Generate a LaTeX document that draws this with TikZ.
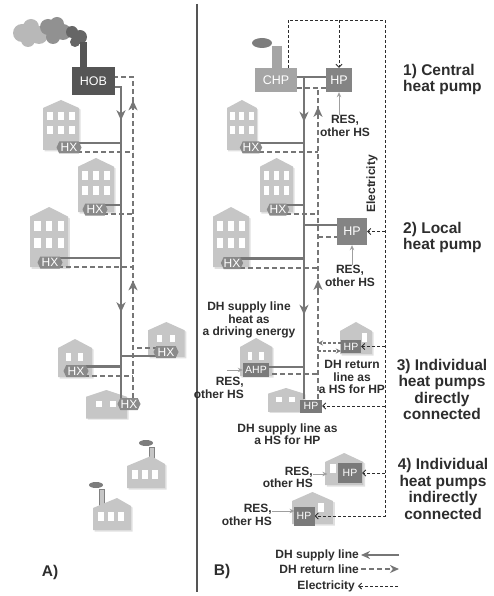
\documentclass[tikz,border=0pt]{standalone}
\usepackage{fontspec}
\setmainfont{Liberation Sans}
\usepackage{tikz}
\usetikzlibrary{arrows.meta,shapes.symbols,positioning}
\definecolor{dhline}{RGB}{118,118,118}
\definecolor{dhbldg}{RGB}{198,198,198}
\definecolor{dhtag}{RGB}{138,138,138}
\definecolor{dhhptag}{RGB}{122,122,122}
\definecolor{dhhob}{RGB}{85,85,85}
\definecolor{dhchp}{RGB}{165,165,165}
\definecolor{dhhp}{RGB}{132,132,132}
\definecolor{dhsmoke}{RGB}{125,125,125}
\definecolor{dhink}{RGB}{45,45,45}
\pgfdeclarelayer{front}
\pgfsetlayers{main,front}
\tikzstyle{supply} = [line width=2.4pt, draw=dhline]
\tikzstyle{rtn} = [line width=2pt, draw=dhline, dash pattern=on 5pt off 3pt]
\tikzstyle{rtnthin} = [line width=1.3pt, draw=dhline, dash pattern=on 3pt off 2pt]
\tikzstyle{elec} = [line width=0.9pt, draw=dhink, dash pattern=on 3pt off 2pt]
\tikzstyle{eto} = [-{Straight Barb[length=3pt,width=6pt]}]
\tikzstyle{flowtip} = [line width=2pt, draw=dhline, fill=dhline, -{Stealth[length=10pt,width=9pt,inset=3pt]}]
\tikzstyle{res} = [line width=1pt, draw=dhline!70, -{Stealth[length=5pt,width=4.5pt]}]
\tikzstyle{plant} = [rectangle, text=white, font=\fontsize{12.5}{12.5}\selectfont, inner sep=0pt]
\tikzstyle{hx} = [signal, signal to=east and west, signal pointer angle=130, fill=dhtag, text=white, font=\fontsize{12}{12}\selectfont, inner sep=0pt, minimum width=25pt, minimum height=12pt]
\tikzstyle{tag} = [rectangle, fill=dhhptag, text=white, font=\fontsize{10.5}{10.5}\selectfont, inner sep=0pt]
\tikzstyle{lbl} = [font=\fontsize{12}{12.5}\selectfont\bfseries, text=dhink, align=center, inner sep=0pt]
\tikzstyle{head} = [font=\fontsize{15.5}{16.5}\selectfont\bfseries, text=dhink, inner sep=0pt]
\tikzset{
  flats/.pic={
    \fill[black, opacity=0.12] (1.5,9.5) -- (19.5,1.5) -- (37.5,9.5) -- (37.5,51.5) -- (1.5,51.5) -- cycle;
    \fill[dhbldg] (0,8) -- (18,0) -- (36,8) -- (36,50) -- (0,50) -- cycle;
    \foreach \c in {4,15,26}
      \foreach \r in {12,26}
        \fill[white] (\c,\r) rectangle ++(6,8);
  },
  house/.pic={
    \fill[black, opacity=0.12] (1.5,10.5) -- (18.5,1.5) -- (35.5,10.5) -- (35.5,39.5) -- (1.5,39.5) -- cycle;
    \fill[dhbldg] (0,9) -- (17,0) -- (34,9) -- (34,38) -- (0,38) -- cycle;
    \foreach \c in {8,20}
      \fill[white] (\c,14) rectangle ++(5,8);
  },
  cottage/.pic={
    \fill[black, opacity=0.12] (1.5,10.5) -- (17.5,1.5) -- (33.5,10.5) -- (33.5,33.5) -- (1.5,33.5) -- cycle;
    \fill[dhbldg] (0,9) -- (16,0) -- (32,9) -- (32,32) -- (0,32) -- cycle;
    \fill[white] (#1,11) rectangle ++(5,9);
    \coordinate (-wall) at (2,18);
  },
  factory/.pic={
    \draw[dhink!60, line width=0.6pt, fill=dhbldg] (#1,10) -- (#1,-9) -- ++(5,0) -- ++(0,19);
    \fill[dhsmoke] (#1-3,-13) ellipse [x radius=7, y radius=3];
    \fill[black, opacity=0.12] (1.5,33.5) -- (1.5,11.5) -- (25.5,1.5) -- (39.5,9.5) -- (39.5,33.5) -- cycle;
    \fill[dhbldg] (0,32) -- (0,10) -- (24,0) -- (38,8) -- (38,32) -- cycle;
    \foreach \c in {5,15,25}
      \fill[white] (\c,14) rectangle ++(6,9);
  }
}

\begin{document}
\begin{tikzpicture}[x=1pt, y=-1pt]
\useasboundingbox (0,0) rectangle (493,596);
\coordinate (sA) at (121,0);
\coordinate (rA) at (133,0);
\coordinate (sB) at (304,0);
\coordinate (rB) at (318,0);
\coordinate (eTR) at (385,20);

% A) heat-only boiler with its consumers
\fill[dhsmoke!55] (22,33) circle (9) (31,27) circle (8) (39,35) circle (9) (28,40) circle (7);
\fill[dhsmoke!85] (48,27) circle (8) (57,24) circle (7) (63,32) circle (8) (53,37) circle (7);
\fill[dhhob!90] (72,32) circle (6) (80,37) circle (7) (75,42) circle (5);
\fill[dhhob] (80,42) rectangle (87,70);
\node[plant, fill=dhhob, minimum width=43pt, minimum height=28pt] (hob) at (93.5,81) {HOB};

\pic at (43,100) {flats};
\pic[yscale=1.08] at (78,158) {flats};
\pic[xscale=1.06, yscale=1.2] at (30,207) {flats};
\pic[xscale=1.08, yscale=0.92] at (148,322) {house};
\pic at (58,339) {house};
\pic[xscale=1.2, yscale=0.75] at (86,390) {house};
\pic at (127,456) {factory=22};
\pic at (93,498) {factory=6};

\begin{pgfonlayer}{front}
\node[hx] (hxA1) at (69,147.5) {HX};
\node[hx] (hxA2) at (95,209.5) {HX};
\node[hx] (hxA3) at (50,262.5) {HX};
\node[hx] (hxA4) at (166,352) {HX};
\node[hx] (hxA5) at (76,371) {HX};
\node[hx, minimum width=23pt] (hxA6) at (129,404) {HX};
\end{pgfonlayer}

\draw[supply] ([yshift=-6pt]hob.east) -| ([xshift=-8pt]hxA6.north);
\draw[rtn] ([xshift=4pt]hxA6.north) |- ([yshift=4pt]hob.east);
% flow direction marks on the mains
\foreach \a/\b in {287.5/277.5, 95.5/85.5}
  \draw[flowtip] ([xshift=-8pt,yshift=\a pt]hxA6.north) -- ([xshift=-8pt,yshift=\b pt]hxA6.north);
\foreach \a/\b in {287.5/297.5, 107.5/117.5}
  \draw[flowtip] ([xshift=4pt,yshift=\a pt]hxA6.north) -- ([xshift=4pt,yshift=\b pt]hxA6.north);
\foreach \t in {hxA1,hxA2,hxA3,hxA5} {
  \draw[supply] ([yshift=4.5pt]\t.center) -- ([yshift=4.5pt]\t.center -| sA);
  \draw[rtn] ([yshift=-4.5pt]\t.center) -- ([yshift=-4.5pt]\t.center -| rA);
}
\draw[supply] ([yshift=-4pt]hxA4.center) -- ([yshift=-4pt]hxA4.center -| sA);
\draw[rtn] ([yshift=4pt]hxA4.center) -- ([yshift=4pt]hxA4.center -| rA);

\node[head] (capA) at (50,572) {A)};

\draw[dhhob, line width=1.6pt] (197,4) -- (197,592);

% B) combined heat and power with heat pumps
\fill[dhsmoke] (262,43) ellipse [x radius=10, y radius=5];
\fill[dhchp] (272,46) rectangle (282,70);
\node[plant, fill=dhchp, minimum width=42pt, minimum height=24pt] (chp) at (276,80) {CHP};
\node[plant, fill=dhhp, minimum width=26pt, minimum height=24pt] (hpC) at (339,80) {HP};

\pic[xscale=0.83] at (227,100) {flats};
\pic[xscale=0.92, yscale=1.08] at (260,158) {flats};
\pic[yscale=1.2] at (213,207) {flats};
\pic[xscale=0.95] at (240,338) {house};
\pic[xscale=1.06, yscale=0.63] at (268,388) {house};
\pic at (340,322) {cottage=22};
\pic[xscale=1.2] (h4a) at (325,453) {cottage=4};
\pic[xscale=1.28] (h4b) at (292,492) {cottage=20};

\begin{pgfonlayer}{front}
\node[hx, minimum width=22pt] (hxB1) at (251,147.5) {HX};
\node[hx, minimum width=21pt] (hxB2) at (278,209.5) {HX};
\node[hx, minimum width=21pt] (hxB3) at (232,263) {HX};
\node[plant, fill=dhhp, minimum width=30pt, minimum height=27pt] (hpL) at (352,231.5) {HP};
\node[tag, minimum width=26pt, minimum height=14pt] (ahp) at (256,370) {AHP};
\node[tag, minimum width=22pt, minimum height=13pt] (hpD) at (311,406) {HP};
\node[tag, minimum width=20pt, minimum height=13pt] (hpR) at (351,346.5) {HP};
\node[tag, minimum width=24pt, minimum height=20pt] (hp4a) at (350,473) {HP};
\node[tag, minimum width=21pt, minimum height=19pt] (hp4b) at (304,516) {HP};
\end{pgfonlayer}

% supply and return mains
\draw[supply] ([yshift=3pt]chp.east) -- ([yshift=3pt]hpC.west);
\draw[supply] ([yshift=3pt]chp.east -| sB) -- ([xshift=-7pt]hpD.north);
\draw[rtn] ([yshift=-8pt]chp.east) -- ([yshift=-8pt]hpC.west);
\draw[rtn] ([xshift=7pt]hpD.north) -- ([yshift=-8pt]chp.east -| rB);
\foreach \a/\b in {287.5/277.5, 94.5/84.5}
  \draw[flowtip] ([xshift=-7pt,yshift=\a pt]hpD.north) -- ([xshift=-7pt,yshift=\b pt]hpD.north);
\foreach \a/\b in {282.5/292.5, 109.5/119.5}
  \draw[flowtip] ([xshift=7pt,yshift=\a pt]hpD.north) -- ([xshift=7pt,yshift=\b pt]hpD.north);
\foreach \t in {hxB1,hxB2,hxB3} {
  \draw[supply] ([yshift=4.5pt]\t.center) -- ([yshift=4.5pt]\t.center -| sB);
  \draw[rtn] ([yshift=-4.5pt]\t.center) -- ([yshift=-4.5pt]\t.center -| rB);
}
\draw[supply] ([yshift=6.5pt]hpL.west -| sB) -- ([yshift=6.5pt]hpL.west);
\draw[rtn] ([yshift=-5.5pt]hpL.west -| rB) -- ([yshift=-5.5pt]hpL.west);
\draw[supply] ([yshift=3pt]ahp.center) -- ([yshift=3pt]ahp.center -| sB);
\draw[rtn] ([yshift=-4pt]ahp.center) -- ([yshift=-4pt]ahp.center -| rB);
\draw[rtnthin, -{Stealth[length=5pt,width=5pt]}] ([yshift=3.5pt]hpR.west) -- ([yshift=3.5pt]hpR.west -| rB);
\draw[rtnthin, -{Stealth[length=5pt,width=5pt]}] ([yshift=-4.5pt]hpR.west -| rB) -- ([yshift=-4.5pt]hpR.west);

% electricity from the CHP
\draw[elec, eto] ([xshift=12pt]chp.north) |- (eTR) |- (hp4b.east);
\draw[elec, eto] (hpC.north |- eTR) -- (hpC.north);
\foreach \t in {hpL,hpR,hpD,hp4a}
  \draw[elec, eto] (eTR |- \t.east) -- (\t.east);
\node[lbl, rotate=90] (elbl) at (372,184) {Electricity};

% other heat sources
\node[lbl] (resC) at (345,126) {RES,\\other HS};
\draw[res] (hpC.south |- resC.north) -- (hpC.south);
\node[lbl] (resL) at (350,276) {RES,\\other HS};
\draw[res] (hpL.south |- resL.north) -- (hpL.south);
\node[lbl, align=right, anchor=east] (resA) at (244,388) {RES,\\other HS};
\draw[res] ([xshift=-16pt]ahp.west) -- (ahp.west);
\node[lbl, align=right, anchor=east] (res4a) at (313,477.5) {RES,\\other HS};
\draw[res] ([yshift=3.5pt]res4a.east) -- ([yshift=3.5pt]res4a.east -| h4a-wall);
\node[lbl, align=right, anchor=east] (res4b) at (272,515) {RES,\\other HS};
\draw[res] ([yshift=4pt]res4b.east) -- ([yshift=4pt]res4b.east -| h4b-wall);

\node[lbl] (drv) at (249,320) {DH supply line\\heat as\\a driving energy};
\node[lbl] (rtnhs) at (352,377) {DH return\\line as\\a HS for HP};
\node[lbl] (suphs) at (287.5,434) {DH supply line as\\a HS for HP};

% variants
\node[head, align=left, anchor=west] (v1) at (403,79.5) {1) Central\\heat pump};
\node[head, align=left, anchor=west] (v2) at (403,237.5) {2) Local\\heat pump};
\node[head, align=center] (v3) at (442,389.5) {3) Individual\\heat pumps\\directly\\connected};
\node[head, align=center] (v4) at (443,489) {4) Individual\\heat pumps\\indirectly\\connected};

% legend
\node[lbl, anchor=east] (lgS) at (359,555) {DH supply line};
\node[lbl, anchor=east] (lgR) at (359,569) {DH return line};
\node[lbl, anchor=east] (lgE) at (355,586) {Electricity};
\draw[supply, -{Stealth[length=9pt,width=8pt]}] ([xshift=40pt]lgS.east) -- ([xshift=2pt]lgS.east);
\draw[rtn, -{Stealth[length=9pt,width=8pt]}] ([xshift=2pt]lgR.east) -- ([xshift=40pt]lgR.east);
\draw[elec, eto] ([xshift=43pt]lgE.east) -- ([xshift=3pt]lgE.east);
\node[head] (capB) at (222,571) {B)};
\end{tikzpicture}
\end{document}
